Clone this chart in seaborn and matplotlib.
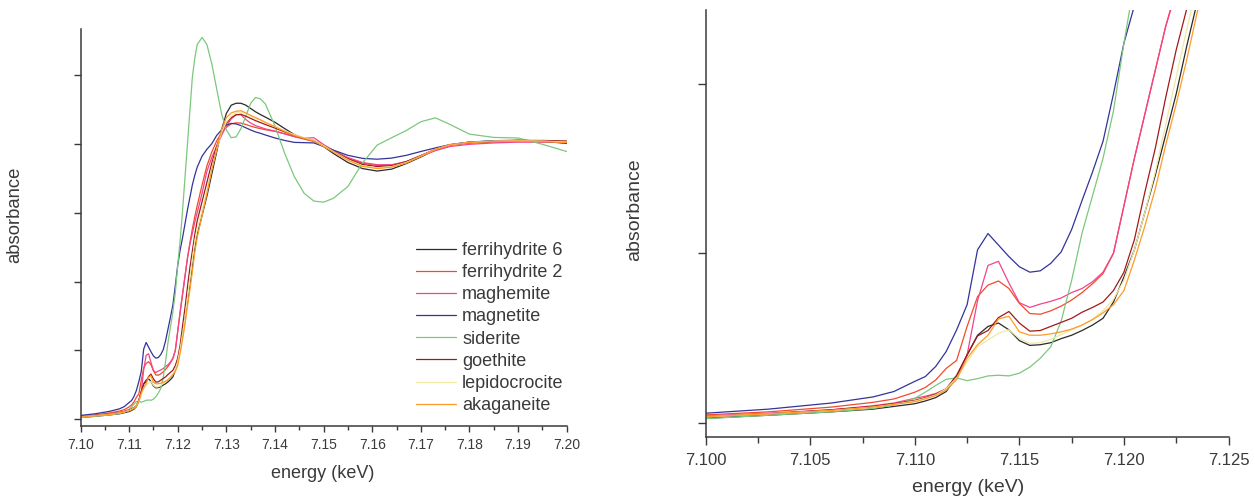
import numpy as np
import pandas as pd
import matplotlib
matplotlib.use('Agg')
import matplotlib.pyplot as plt
from matplotlib.ticker import MultipleLocator, FormatStrFormatter
import seaborn as sns

# energy grid (keV), finer through the pre-edge and the edge onset
energy = [7.100, 7.103, 7.106, 7.108, 7.109, 7.110,
          7.1105, 7.111, 7.1115, 7.112, 7.1125, 7.113, 7.1135, 7.114, 7.1145, 7.115, 7.1155, 7.116, 7.1165,
          7.117, 7.1175, 7.118, 7.1185, 7.119, 7.1195, 7.120, 7.1205, 7.121, 7.1215, 7.122, 7.1225,
          7.123, 7.1235, 7.124,
          7.125, 7.126, 7.127, 7.128, 7.129, 7.130, 7.131, 7.132, 7.133, 7.134, 7.135, 7.136, 7.137, 7.138,
          7.140, 7.142, 7.144, 7.146, 7.148, 7.150, 7.152,
          7.155, 7.158, 7.161, 7.164, 7.167, 7.170, 7.173, 7.176,
          7.180, 7.185, 7.190, 7.195, 7.200]

ferrihydrite_6 = [0.0065, 0.011, 0.016, 0.020, 0.024, 0.028,
                  0.032, 0.037, 0.046, 0.068, 0.100, 0.129, 0.142, 0.147, 0.137, 0.121, 0.114, 0.115, 0.118,
                  0.124, 0.129, 0.136, 0.144, 0.154, 0.178, 0.215, 0.255, 0.310, 0.365, 0.425, 0.485,
                  0.555, 0.620, 0.670,
                  0.74, 0.81, 0.89, 0.97, 1.05, 1.11, 1.14, 1.147, 1.147, 1.14, 1.128, 1.116, 1.106, 1.097,
                  1.078, 1.055, 1.033, 1.020, 1.010, 0.990, 0.965,
                  0.932, 0.910, 0.901, 0.908, 0.928, 0.952, 0.978, 0.996,
                  1.006, 1.010, 1.011, 1.009, 1.005]

ferrihydrite_2 = [0.0115, 0.016, 0.023, 0.030, 0.035, 0.045,
                  0.052, 0.063, 0.080, 0.092, 0.142, 0.186, 0.203, 0.209, 0.198, 0.176, 0.161, 0.160, 0.165,
                  0.172, 0.181, 0.192, 0.205, 0.220, 0.250, 0.320, 0.390, 0.455, 0.520, 0.585, 0.640,
                  0.690, 0.735, 0.775,
                  0.85, 0.92, 0.97, 1.01, 1.04, 1.06, 1.072, 1.076, 1.075, 1.07, 1.064, 1.059, 1.055, 1.051,
                  1.045, 1.036, 1.026, 1.017, 1.008, 0.992, 0.972,
                  0.947, 0.930, 0.921, 0.922, 0.935, 0.957, 0.980, 0.995,
                  1.003, 1.006, 1.008, 1.007, 1.004]

maghemite = [0.010, 0.014, 0.019, 0.025, 0.029, 0.036,
             0.039, 0.043, 0.050, 0.064, 0.100, 0.180, 0.232, 0.238, 0.206, 0.177, 0.170, 0.175, 0.179,
             0.184, 0.192, 0.198, 0.208, 0.222, 0.250, 0.320, 0.390, 0.455, 0.520, 0.585, 0.635,
             0.675, 0.715, 0.750,
             0.82, 0.90, 0.95, 0.99, 1.03, 1.065, 1.09, 1.106, 1.105, 1.088, 1.075, 1.066, 1.06, 1.054,
             1.046, 1.036, 1.026, 1.020, 1.022, 0.997, 0.976,
             0.950, 0.932, 0.924, 0.924, 0.935, 0.955, 0.975, 0.990,
             0.998, 1.003, 1.006, 1.006, 1.004]

magnetite = [0.014, 0.020, 0.029, 0.038, 0.046, 0.061,
             0.068, 0.083, 0.105, 0.137, 0.174, 0.255, 0.279, 0.262, 0.245, 0.230, 0.222, 0.224, 0.235,
             0.252, 0.285, 0.328, 0.370, 0.415, 0.485, 0.560, 0.615, 0.660, 0.710, 0.760, 0.805,
             0.850, 0.885, 0.915,
             0.955, 0.980, 1.000, 1.030, 1.050, 1.068, 1.074, 1.072, 1.066, 1.058, 1.050, 1.043, 1.038, 1.032,
             1.021, 1.012, 1.005, 1.004, 1.003, 0.990, 0.977,
             0.958, 0.947, 0.944, 0.948, 0.958, 0.972, 0.985, 0.997,
             1.006, 1.011, 1.013, 1.010, 1.001]

siderite = [0.006, 0.011, 0.016, 0.021, 0.026, 0.036,
            0.045, 0.055, 0.064, 0.066, 0.062, 0.065, 0.069, 0.070, 0.069, 0.073, 0.082, 0.095, 0.112,
            0.150, 0.210, 0.280, 0.335, 0.390, 0.460, 0.560, 0.650, 0.760, 0.880, 1.000, 1.120,
            1.240, 1.310, 1.360,
            1.386, 1.360, 1.290, 1.200, 1.110, 1.050, 1.022, 1.025, 1.055, 1.100, 1.147, 1.168, 1.163, 1.145,
            1.065, 0.965, 0.880, 0.820, 0.792, 0.788, 0.802,
            0.845, 0.930, 0.995, 1.022, 1.048, 1.080, 1.094, 1.070,
            1.035, 1.023, 1.021, 0.998, 0.972]

goethite = [0.009, 0.013, 0.019, 0.024, 0.028, 0.033,
            0.037, 0.042, 0.050, 0.070, 0.100, 0.128, 0.136, 0.155, 0.164, 0.147, 0.135, 0.136, 0.142,
            0.148, 0.154, 0.163, 0.170, 0.178, 0.195, 0.222, 0.270, 0.340, 0.405, 0.480, 0.550,
            0.610, 0.670, 0.720,
            0.79, 0.86, 0.93, 0.99, 1.04, 1.075, 1.095, 1.105, 1.107, 1.10, 1.092, 1.084, 1.077, 1.07,
            1.057, 1.043, 1.030, 1.020, 1.012, 0.993, 0.973,
            0.945, 0.925, 0.917, 0.920, 0.935, 0.957, 0.980, 0.996,
            1.004, 1.009, 1.012, 1.012, 1.010]

lepidocrocite = [0.009, 0.013, 0.018, 0.023, 0.027, 0.032,
                 0.036, 0.041, 0.050, 0.066, 0.090, 0.112, 0.122, 0.132, 0.137, 0.124, 0.117, 0.118, 0.123,
                 0.130, 0.137, 0.144, 0.153, 0.165, 0.182, 0.210, 0.255, 0.310, 0.370, 0.440, 0.510,
                 0.580, 0.645, 0.690,
                 0.76, 0.83, 0.91, 0.98, 1.04, 1.08, 1.10, 1.112, 1.115, 1.11, 1.10, 1.092, 1.085, 1.077,
                 1.062, 1.047, 1.033, 1.022, 1.012, 0.993, 0.972,
                 0.942, 0.920, 0.913, 0.917, 0.932, 0.955, 0.980, 0.996,
                 1.005, 1.010, 1.011, 1.010, 1.006]

akaganeite = [0.009, 0.013, 0.018, 0.023, 0.027, 0.031,
              0.035, 0.040, 0.048, 0.064, 0.095, 0.115, 0.129, 0.153, 0.157, 0.134, 0.129, 0.129, 0.131,
              0.134, 0.138, 0.144, 0.152, 0.162, 0.174, 0.195, 0.240, 0.290, 0.345, 0.410, 0.470,
              0.535, 0.605, 0.660,
              0.74, 0.82, 0.905, 0.98, 1.05, 1.095, 1.112, 1.118, 1.12, 1.112, 1.103, 1.095, 1.087, 1.078,
              1.062, 1.045, 1.030, 1.020, 1.010, 0.990, 0.970,
              0.940, 0.918, 0.910, 0.915, 0.930, 0.955, 0.980, 0.997,
              1.005, 1.008, 1.010, 1.008, 1.004]

minerals = ['ferrihydrite 6', 'ferrihydrite 2', 'maghemite', 'magnetite',
            'siderite', 'goethite', 'lepidocrocite', 'akaganeite']
series = [ferrihydrite_6, ferrihydrite_2, maghemite, magnetite,
          siderite, goethite, lepidocrocite, akaganeite]
colours = ['#2a2a2a', '#f24a2c', '#f2448a', '#33339a',
           '#7cc87c', '#a01a1a', '#eeeaa2', '#ff9a26']

df = pd.concat([pd.DataFrame({'energy': energy, 'absorbance': s, 'mineral': m})
                for m, s in zip(minerals, series)], ignore_index=True)
palette = dict(zip(minerals, colours))

sns.set_theme(style='ticks')
plt.rcParams['font.family'] = ['Liberation Sans', 'DejaVu Sans']
ink = '#3a3a3a'

fig = plt.figure(figsize=(12.55, 4.99), dpi=100)
W, H = 1255, 499
ax1 = fig.add_axes([80.5 / W, 1 - 425.7 / H, 486.2 / W, 396.7 / H])
ax2 = fig.add_axes([705.7 / W, 1 - 436.7 / H, 522.8 / W, 426.7 / H])

for ax in (ax1, ax2):
    sns.lineplot(data=df, x='energy', y='absorbance', hue='mineral', hue_order=minerals,
                 palette=palette, estimator=None, lw=0.9, ax=ax, legend=(ax is ax1))
    for side in ('top', 'right'):
        ax.spines[side].set_visible(False)
    for side in ('left', 'bottom'):
        ax.spines[side].set_color(ink)
        ax.spines[side].set_linewidth(1.1)
    ax.set_xlabel('')
    ax.set_ylabel('')
    ax.tick_params(axis='y', labelleft=False, color=ink, width=1.0)
    ax.tick_params(axis='x', which='both', color=ink, labelcolor=ink, width=1.0)

# left: full XANES range
ax1.set_xlim(7.10, 7.20)
ax1.set_ylim(-0.0232, 1.4165)
ax1.xaxis.set_major_locator(MultipleLocator(0.01))
ax1.xaxis.set_minor_locator(MultipleLocator(0.005))
ax1.xaxis.set_major_formatter(FormatStrFormatter('%.2f'))
ax1.set_yticks([0, 0.25, 0.5, 0.75, 1.0, 1.25])
ax1.tick_params(axis='y', length=4.8)
ax1.tick_params(axis='x', which='major', length=4, pad=5, labelsize=10)
ax1.tick_params(axis='x', which='minor', length=3)

handles, labels = ax1.get_legend_handles_labels()
ax1.legend(handles, labels, frameon=False, fontsize=13, loc='upper left',
           bbox_to_anchor=(416 / W, 1 - 242 / H), bbox_transform=fig.transFigure,
           borderpad=0, borderaxespad=0, handlelength=2.2, handletextpad=0.35,
           labelspacing=0.285, labelcolor=ink)

# right: pre-edge zoom
ax2.set_xlim(7.100, 7.125)
ax2.set_ylim(-0.02065, 0.6087)
ax2.xaxis.set_major_locator(MultipleLocator(0.005))
ax2.xaxis.set_minor_locator(MultipleLocator(0.0025))
ax2.xaxis.set_major_formatter(FormatStrFormatter('%.3f'))
ax2.set_yticks([0, 0.25, 0.5])
ax2.tick_params(axis='y', length=6)
ax2.tick_params(axis='x', which='major', length=5.5, pad=6, labelsize=12)
ax2.tick_params(axis='x', which='minor', length=4)

fig.text(15 / W, 1 - 215 / H, 'absorbance', rotation=90, ha='center', va='center',
         fontsize=13.3, color=ink)
fig.text(323 / W, 1 - 473 / H, 'energy (keV)', ha='center', va='center', fontsize=13, color=ink)
fig.text(635 / W, 1 - 210 / H, 'absorbance', rotation=90, ha='center', va='center',
         fontsize=14, color=ink)
fig.text(968 / W, 1 - 488 / H, 'energy (keV)', ha='center', va='center', fontsize=14, color=ink)

fig.savefig('out.png', dpi=100, facecolor='white')
